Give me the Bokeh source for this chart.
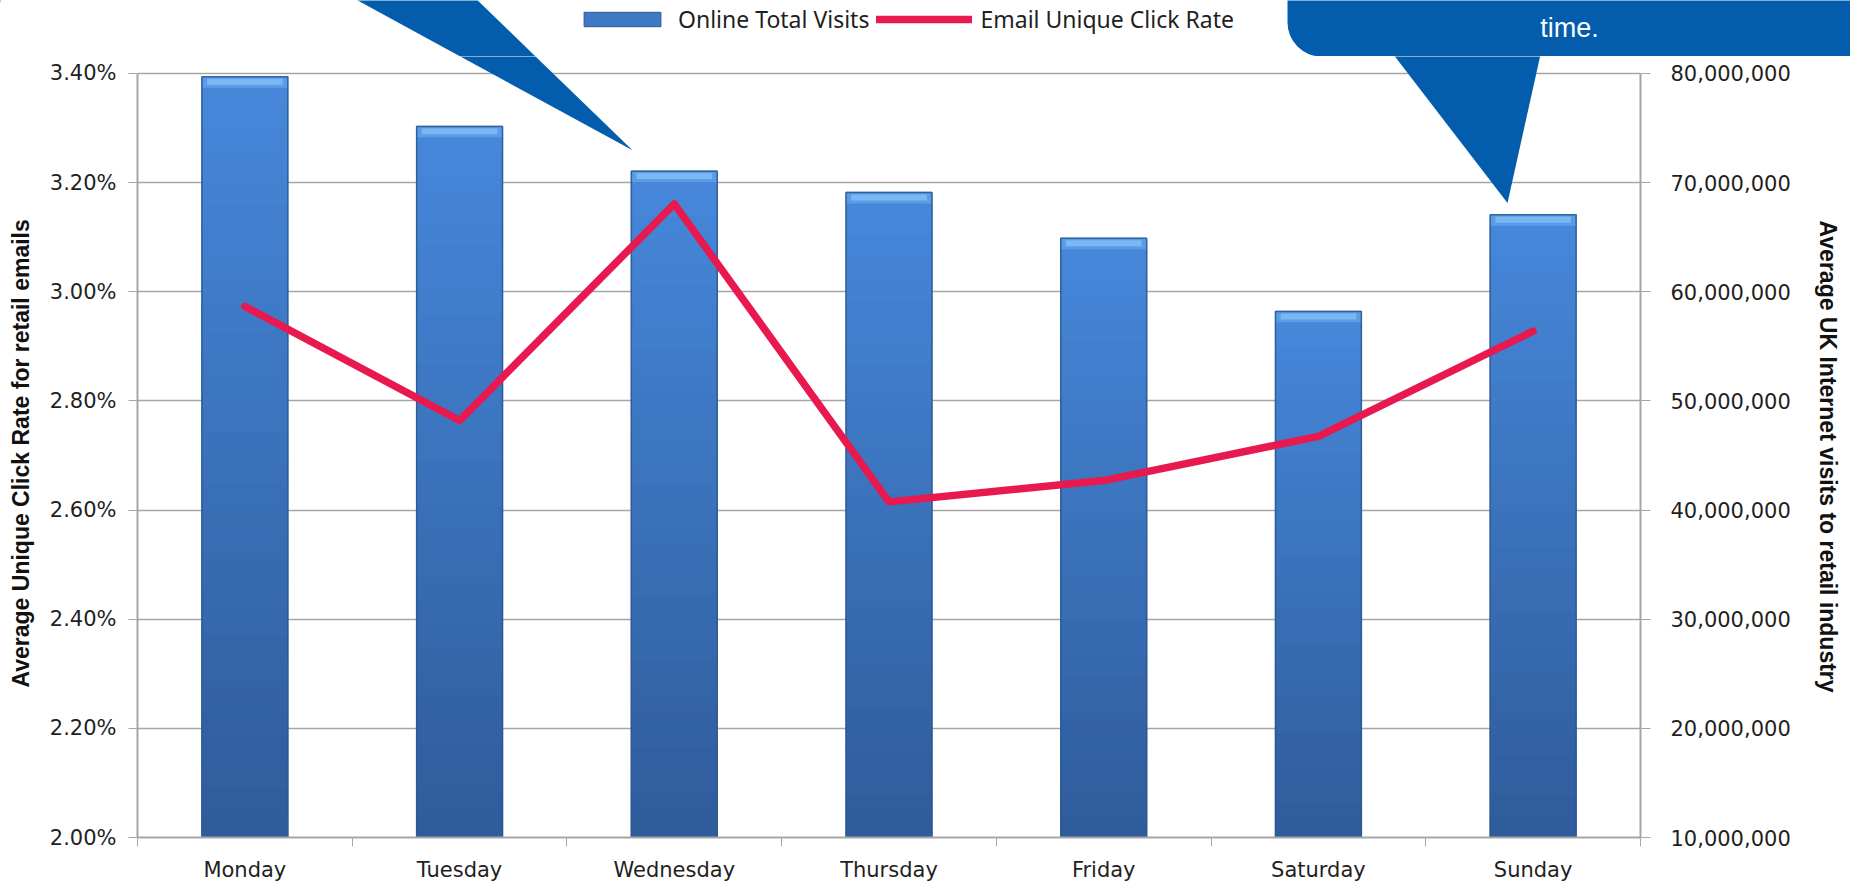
from bokeh.plotting import figure
from bokeh.layouts import column
from bokeh.models import (Range1d, LinearAxis, FixedTicker, NumeralTickFormatter,
                          Legend, LegendItem, PolyAnnotation, Label)
from bokeh.embed import file_html
from bokeh.resources import INLINE

# ---------------- data ----------------
days = ["Monday", "Tuesday", "Wednesday", "Thursday", "Friday", "Saturday", "Sunday"]
online_visits = [79.7e6, 75.15e6, 71.05e6, 69.1e6, 64.9e6, 58.2e6, 67.05e6]
email_click_rate = [0.02973, 0.02764, 0.03161, 0.02615, 0.02654, 0.02735, 0.02928]
left_ticks = [0.020, 0.022, 0.024, 0.026, 0.028, 0.030, 0.032, 0.034]
right_ticks = [10e6, 20e6, 30e6, 40e6, 50e6, 60e6, 70e6, 80e6]
series_names = ["Online Total Visits", "Email Unique Click Rate"]
left_title = "Average Unique Click Rate for retail emails"
right_title = "Average UK Internet visits to retail industry"
callout_text = "time."

# ---------------- geometry (page pixels) ----------------
W, H = 1850, 884
TOP = 56                    # height of the header strip (legend / callouts)
FL, FR = 137, 1640          # frame left / right
AT, FB = 73, 839            # axis top (3.40%) / frame bottom (2.00%)
Y0, Y1 = left_ticks[0], left_ticks[-1]
V0, V1 = right_ticks[0], right_ticks[-1]
n = len(days)
ext = (FB - TOP) / (FB - AT)

GRID = "#A6A6A6"
TICKF = "DejaVu Sans"
TCOL = "#1F1F1F"
CALL = "#035CAC"
BAR_MID = "#3F79C6"
LINE_COL = "#E8194F"

def xd(px):
    return (px - FL) / (FR - FL) * n

def yd(py):
    return Y1 - (py - AT) / (FB - AT) * (Y1 - Y0)

left_tri = ([284, 436, 632], [-40, -40, 150])
right_tri = ([1386, 1542, 1507], [45, 45, 203])

# =============== header strip (page coordinates) ===============
top = figure(width=W, height=TOP, output_backend="svg", toolbar_location=None,
             x_range=Range1d(0, W), y_range=Range1d(TOP, 0),
             x_axis_type=None, y_axis_type=None,
             min_border_left=0, min_border_right=0, min_border_top=0, min_border_bottom=0,
             outline_line_color=None, background_fill_color="white",
             border_fill_color="white")
top.frame_align = False
top.grid.visible = False

# legend proxies (kept off-screen; only their legend glyphs are seen)
lg_bar = top.vbar(x=[-500], bottom=[0], top=[1], width=1, fill_color=BAR_MID,
                  line_color="#2C5893")
lg_line = top.line(x=[-500, -499], y=[0, 0], line_color=LINE_COL, line_width=7.5,
                   line_cap="round")
legend = Legend(items=[LegendItem(label=series_names[0], renderers=[lg_bar]),
                       LegendItem(label=series_names[1], renderers=[lg_line])],
                orientation="horizontal", location=(574, TOP - 35),
                glyph_width=96, glyph_height=18, label_standoff=8, spacing=7,
                padding=0, margin=0, border_line_color=None, background_fill_alpha=0,
                label_text_font="Noto Sans", label_text_font_size="23px",
                label_text_color=TCOL)
top.add_layout(legend, "center")

top.add_layout(PolyAnnotation(xs=left_tri[0], ys=left_tri[1],
                              fill_color=CALL, fill_alpha=1, line_color=None))
top.add_layout(Label(x=1287, y=56, text=" ", text_align="left", text_baseline="bottom",
                     text_font_size="1px", text_color=CALL,
                     background_fill_color=CALL, background_fill_alpha=1,
                     padding=dict(left=0, right=620, top=120, bottom=0),
                     border_radius=dict(top_left=0, top_right=0, bottom_right=0, bottom_left=34)))
top.add_layout(PolyAnnotation(xs=right_tri[0], ys=right_tri[1],
                              fill_color=CALL, fill_alpha=1, line_color=None))
top.add_layout(Label(x=1569, y=27, text=callout_text, text_align="center",
                     text_baseline="alphabetic", text_color="white",
                     text_font="Liberation Sans", text_font_size="27px"))

# =============== main chart ===============
p = figure(width=W, height=H - TOP, output_backend="svg", toolbar_location=None,
           x_range=Range1d(0, n), y_range=Range1d(Y0, Y0 + (Y1 - Y0) * ext),
           min_border_left=FL, min_border_right=W - FR,
           min_border_top=0, min_border_bottom=H - FB,
           outline_line_color=None, background_fill_color="white",
           border_fill_color="white")
p.frame_align = False
p.extra_y_ranges = {"visits": Range1d(V0, V0 + (V1 - V0) * ext)}

xc = [i + 0.5 for i in range(n)]
BW = 0.40

def lerp(c1, c2, t):
    a = [int(c1[i:i + 2], 16) for i in (1, 3, 5)]
    b = [int(c2[i:i + 2], 16) for i in (1, 3, 5)]
    return "#%02x%02x%02x" % tuple(round(a[k] + (b[k] - a[k]) * t) for k in range(3))

NB = 30
for j in range(NB):
    bots = [V0 + (v - V0) * j / NB for v in online_visits]
    tops = [V0 + (v - V0) * (j + 1) / NB for v in online_visits]
    col = lerp("#2F5C9B", "#4687DA", j / (NB - 1))
    p.vbar(x=xc, width=BW, bottom=bots, top=tops, fill_color=col, line_color=col,
           line_width=1.2, y_range_name="visits")

px_v = (V1 - V0) / (FB - AT)
p.vbar(x=xc, width=BW, bottom=[v - 11 * px_v for v in online_visits], top=online_visits,
       fill_color="#5B9CE6", line_color=None, y_range_name="visits")
p.vbar(x=xc, width=BW * 0.88, bottom=[v - 8 * px_v for v in online_visits],
       top=[v - 2 * px_v for v in online_visits],
       fill_color="#7AB7F3", line_color=None, y_range_name="visits")
p.vbar(x=xc, width=BW, bottom=V0, top=online_visits, fill_alpha=0,
       line_color="#2C5893", line_width=1.5, line_alpha=0.85, y_range_name="visits")

p.line(x=xc, y=email_click_rate, line_color=LINE_COL, line_width=7.5,
       line_join="round", line_cap="round")

# axes
p.xgrid.visible = False
p.ygrid.ticker = FixedTicker(ticks=left_ticks)
p.ygrid.grid_line_color = GRID
p.ygrid.grid_line_width = 1.3

xa = p.xaxis[0]
xa.ticker = FixedTicker(ticks=xc, minor_ticks=list(range(n + 1)))
xa.major_label_overrides = {xc[i]: days[i] for i in range(n)}
xa.axis_line_color = GRID
xa.axis_line_width = 2
xa.major_tick_out = 9
xa.major_tick_in = 0
xa.major_tick_line_color = None
xa.minor_tick_out = 9
xa.minor_tick_in = 0
xa.minor_tick_line_color = GRID
xa.major_label_standoff = 11
xa.major_label_text_font = TICKF
xa.major_label_text_font_size = "21px"
xa.major_label_text_color = TCOL

NBSP = "\u00a0"
ya = p.yaxis[0]
ya.bounds = (Y0, Y1)
ya.ticker = FixedTicker(ticks=left_ticks)
ya.formatter = NumeralTickFormatter(format="0.00%")
ya.axis_line_color = GRID
ya.axis_line_width = 2
ya.major_tick_out = 9
ya.major_tick_in = 0
ya.major_tick_line_color = GRID
ya.minor_tick_line_color = None
ya.major_label_standoff = 12
ya.major_label_text_font = TICKF
ya.major_label_text_font_size = "21px"
ya.major_label_text_color = TCOL
ya.axis_label = left_title + NBSP * 2
ya.axis_label_text_font = "Liberation Sans"
ya.axis_label_text_font_style = "bold"
ya.axis_label_text_font_size = "23px"
ya.axis_label_text_color = "#111111"
ya.axis_label_standoff = 13

ra = LinearAxis(y_range_name="visits", ticker=FixedTicker(ticks=right_ticks),
                formatter=NumeralTickFormatter(format="0,0"), bounds=(V0, V1))
ra.axis_line_color = GRID
ra.axis_line_width = 2
ra.major_tick_out = 10
ra.major_tick_in = 0
ra.major_tick_line_color = GRID
ra.minor_tick_line_color = None
ra.major_label_standoff = 20
ra.major_label_text_font = TICKF
ra.major_label_text_font_size = "21px"
ra.major_label_text_color = TCOL
ra.axis_label = NBSP * 3 + right_title
ra.axis_label_text_font = "Liberation Sans"
ra.axis_label_text_font_style = "bold"
ra.axis_label_text_font_size = "23px"
ra.axis_label_text_color = "#111111"
ra.axis_label_standoff = 21
p.add_layout(ra, "right")

# callout pointers continuing into the chart
p.add_layout(PolyAnnotation(xs=[xd(v) for v in left_tri[0]], ys=[yd(v) for v in left_tri[1]],
                            fill_color=CALL, fill_alpha=1, line_color=None))
p.add_layout(PolyAnnotation(xs=[xd(v) for v in right_tri[0]], ys=[yd(v) for v in right_tri[1]],
                            fill_color=CALL, fill_alpha=1, line_color=None))

layout = column(top, p, spacing=0)
open("out.html", "w").write(file_html(layout, INLINE))
